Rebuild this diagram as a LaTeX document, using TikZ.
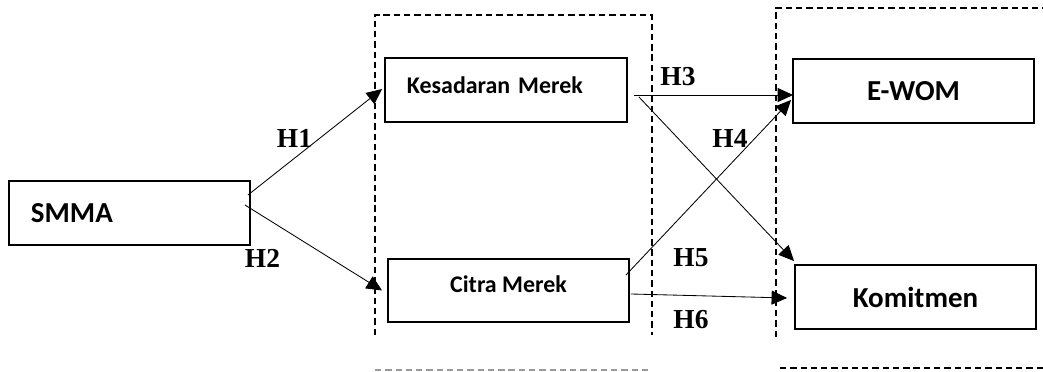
\documentclass[tikz,border=0pt]{standalone}
\usepackage{fontspec}
\setmainfont{Carlito}
\newfontfamily\hypfont{Liberation Serif}
\usetikzlibrary{arrows.meta}
\usetikzlibrary{positioning}
\usetikzlibrary{calc}

\begin{document}
\begin{tikzpicture}
		[x=0.025cm,y=-0.025cm,
		box/.style={draw,line width=1.3pt,minimum width=6.025cm,minimum height=1.6cm,inner sep=0pt,font=\fontsize{20.6}{24}\selectfont\bfseries},
		smallbox/.style={box,font=\fontsize{17}{20}\selectfont\bfseries},
		hyp/.style={inner sep=0pt,font=\hypfont\fontsize{19.5}{22}\selectfont\bfseries},
		group/.style={line width=0.9pt,dash pattern=on 4.5pt off 2.8pt},
		link/.style={-{Triangle[length=11pt,width=10pt]},line width=0.6pt}]
		\useasboundingbox (0,0) rectangle (1043,372);
		
		\node[box,text width=4.925cm,align=left,inner xsep=0.55cm] (smma) at (129.5,213) {SMMA};
		\node[smallbox,minimum width=6.05cm,text width=4.95cm,align=left,inner xsep=0.55cm] (kes) at (506,90) {\raisebox{0.25cm}{Kesadaran Merek}};
		\node[smallbox,minimum height=1.575cm] (citra) at (508.5,290.5) {\raisebox{0.3cm}{Citra Merek}};
		\node[box] (ewom) at (913.5,91) {E-WOM};
		\node[box] (kom) at (915.5,297) {Komitmen};
		
		\draw[group] (375,335) -- (375,15) -- (652,15) -- (652,335);
		\draw[group,black!40] (375,370) -- (648,370);
		\draw[group] (776,337) -- (776,8) -- (1043,8);
		\draw[group] (780,368) -- (1043,368);
		
		\foreach \from/\fo/\to/\tof in
		{smma.east/{-3,-18}/kes.west/{-2,-1}, smma.east/{-6,-8}/citra.west/{-5,0},
		 kes.east/{6,5}/ewom.west/{1,4}, kes.east/{11,7}/kom.north west/{0,-3},
		 citra.east/{-4,-15.5}/ewom.west/{-1,9}, citra.east/{1,3.5}/kom.west/{-7,1}}
		\draw[link] ($(\from)+(\fo)$) -- ($(\to)+(\tof)$);
		
		\node[hyp] (h1) at (294.5,138.5) {H1};
		\node[hyp] (h2) at (262.5,258) {H2};
		\node[hyp] (h3) at (678,77) {H3};
		\node[hyp] (h4) at (730,138) {H4};
		\node[hyp] (h5) at (691,258) {H5};
		\node[hyp] (h6) at (691,320) {H6};
		\end{tikzpicture}
\end{document}
